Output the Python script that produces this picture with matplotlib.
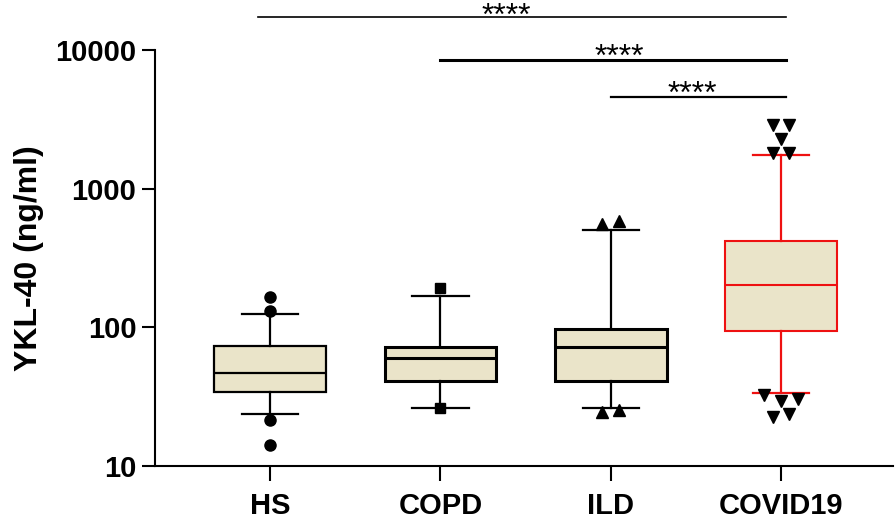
import numpy as np
import matplotlib
matplotlib.use('Agg')
import matplotlib.pyplot as plt
from matplotlib.ticker import FixedLocator, NullLocator, FixedFormatter

plt.rcParams['font.family'] = ['Liberation Sans', 'DejaVu Sans']

# data
groups = ['HS', 'COPD', 'ILD', 'COVID19']
q1 = [33.9, 40.7, 40.7, 94.6]
med = [46.8, 59.7, 71.6, 201.0]
q3 = [73.3, 72.5, 97.3, 418.0]
whislo = [23.9, 26.4, 26.1, 33.6]
whishi = [124.9, 169.4, 500.0, 1742.0]

out_hs = [166.6, 130.5, 21.4, 14.2]
out_copd = [193.6, 26.1]
out_ild = [552.0, 581.0, 24.7, 25.4]
out_covid = [2870.0, 2870.0, 2275.0, 1800.0, 1800.0, 32.6, 29.5, 30.5, 22.6, 23.9]
outliers = [out_hs, out_copd, out_ild, out_covid]

# significance brackets: (from group, to group, label)
sig_pairs = [(0, 3, '****'), (1, 3, '****'), (2, 3, '****')]
sig_heights = [17340, 8470, 4575]

# style
fill = '#EAE4C9'
edge = ['black', 'black', 'black', '#EE1111']
box_lw = [1.6, 2.2, 2.2, 1.5]
markers = ['o', 's', '^', 'v']
msize = [8, 7.5, 8, 8.5]
jitter = [[0, 0, 0, 0],
          [0, 0],
          [-0.049, 0.049, -0.049, 0.049],
          [-0.047, 0.047, 0, -0.047, 0.047, -0.1, 0, 0.1, -0.047, 0.047]]

fig = plt.figure(figsize=(8.96, 5.19), dpi=100)
ax = fig.add_axes([155/896, 1-466/519, (893-155)/896, (466-50)/519])

pos = np.arange(len(groups))
for i in range(len(groups)):
    st = [dict(med=med[i], q1=q1[i], q3=q3[i], whislo=whislo[i], whishi=whishi[i], fliers=[])]
    ax.bxp(st, positions=[pos[i]], widths=0.655, capwidths=0.33, patch_artist=True,
           showfliers=False,
           boxprops=dict(facecolor=fill, edgecolor=edge[i], linewidth=box_lw[i]),
           medianprops=dict(color=edge[i], linewidth=box_lw[i]),
           whiskerprops=dict(color=edge[i], linewidth=1.6),
           capprops=dict(color=edge[i], linewidth=1.6))
    ax.plot(pos[i] + np.array(jitter[i]), outliers[i], linestyle='none', marker=markers[i],
            color='black', markersize=msize[i], clip_on=False, zorder=5)

ax.set_yscale('log')
ax.set_ylim(10, 10000)
ax.set_xlim(-0.675, 3.656)
ax.yaxis.set_major_locator(FixedLocator([10, 100, 1000, 10000]))
ax.yaxis.set_major_formatter(FixedFormatter(['10', '100', '1000', '10000']))
ax.yaxis.set_minor_locator(NullLocator())
ax.set_xticks(pos)
ax.set_xticklabels(groups, fontsize=21, fontweight='bold')
for lab in ax.get_yticklabels():
    lab.set_fontsize(21)
    lab.set_fontweight('bold')
ax.tick_params(axis='y', length=9.5, width=1.5, color='black', pad=4)
ax.tick_params(axis='x', length=11, width=1.5, color='black', pad=8)
for s in ['top', 'right']:
    ax.spines[s].set_visible(False)
for s in ['left', 'bottom']:
    ax.spines[s].set_linewidth(1.5)

ax.set_ylabel('YKL-40 (ng/ml)', fontsize=23, fontweight='bold', labelpad=8)

sig_lw = [1.2, 2.2, 1.6]
sig_text_x = [1.386, 2.05, 2.48]
sig_offset = [-6, -4, -4]
for k, (a, b, lab) in enumerate(sig_pairs):
    h = sig_heights[k]
    ax.plot([pos[a] - 0.07 if k == 0 else pos[a], pos[b] + 0.03], [h, h], color='black',
            linewidth=sig_lw[k], clip_on=False)
    ax.annotate(lab, xy=(sig_text_x[k], h), xytext=(0, sig_offset[k]), textcoords='offset points',
                ha='center', va='baseline', fontsize=23, annotation_clip=False)

fig.savefig('out.png', dpi=100)
